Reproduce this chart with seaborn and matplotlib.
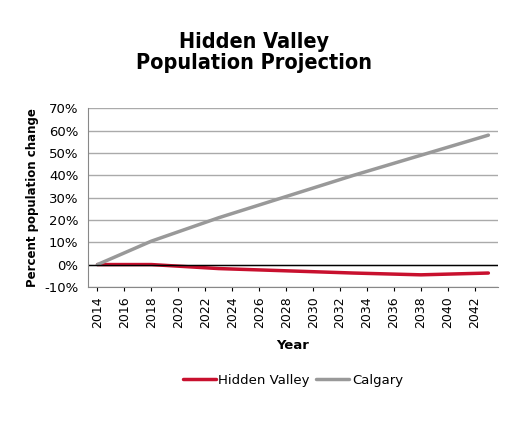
import matplotlib
matplotlib.use("Agg")
import matplotlib.pyplot as plt
import seaborn as sns
import pandas as pd
from matplotlib.ticker import FuncFormatter

years = [2014, 2018, 2023, 2028, 2033, 2038, 2043]
hidden_valley = [0.0, 0.0, -1.8, -2.8, -3.8, -4.6, -3.8]
calgary = [0.0, 10.5, 21.0, 30.5, 40.0, 49.0, 58.0]

df = pd.DataFrame({"Year": years * 2,
                   "Value": hidden_valley + calgary,
                   "Series": ["Hidden Valley"] * len(years) + ["Calgary"] * len(years)})

sns.set_style("white")
plt.rcParams['font.family'] = ['DejaVu Sans']
plt.rcParams['text.color'] = 'black'
plt.rcParams['xtick.color'] = 'black'
plt.rcParams['ytick.color'] = 'black'
plt.rcParams['axes.labelcolor'] = 'black'
fig = plt.figure(figsize=(5.09, 4.25), dpi=100)
ax = fig.add_axes([0.173, 0.325, 0.805, 0.42])
sns.lineplot(data=df, x="Year", y="Value", hue="Series",
             palette={"Hidden Valley": "#c8102e", "Calgary": "#999999"},
             linewidth=2.5, ax=ax, legend=True)
ax.set_xlim(2013.3, 2043.7)
ax.set_ylim(-10, 70)
ax.set_yticks(range(-10, 71, 10))
ax.yaxis.set_major_formatter(FuncFormatter(lambda v, p: f"{int(v)}%"))
ax.set_xticks(range(2014, 2043, 2))
ax.tick_params(axis="x", rotation=90, labelsize=9, length=3, bottom=True)
ax.tick_params(axis="y", labelsize=9.5)
ax.grid(axis="y", color="#aaaaaa", linewidth=1)
ax.axhline(0, color="black", linewidth=1)
for s in ["top", "right"]:
    ax.spines[s].set_visible(False)
ax.spines["left"].set_color("#888888")
ax.spines["bottom"].set_color("#888888")
ax.set_xlabel("Year", fontweight="bold", fontsize=9.5, labelpad=8)
ax.set_ylabel("Percent population change", fontweight="bold", fontsize=8.5)
fig.suptitle("Hidden Valley\nPopulation Projection", fontweight="bold", fontsize=15.5,
             y=0.925, linespacing=1.05, fontstretch="condensed")
ax.legend(title=None, loc="upper center", bbox_to_anchor=(0.5, -0.42), ncol=2,
          frameon=False, fontsize=9.5, handlelength=2.5, columnspacing=0.5, handletextpad=0.2)
fig.savefig("out.png", dpi=100)
